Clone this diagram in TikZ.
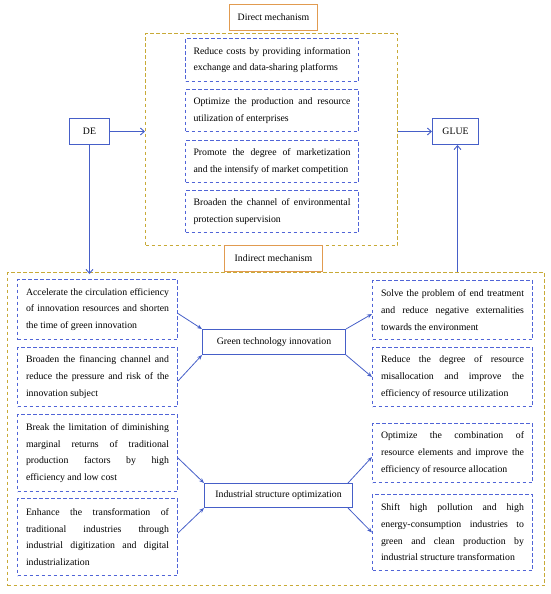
\documentclass[tikz,border=0pt]{standalone}
\usepackage{fontspec}
\setmainfont{Liberation Serif}
\usetikzlibrary{arrows.meta}
\definecolor{bl}{RGB}{70,95,200}
\definecolor{dbl}{RGB}{80,100,215}
\definecolor{ol}{RGB}{200,170,55}
\definecolor{tn}{RGB}{225,155,80}
\newcommand\mytxtsetup{\hyphenpenalty=10000 \exhyphenpenalty=10000 \spaceskip=2.45pt plus 4pt\relax}
\tikzset{
  txt/.style={font=\fontsize{9.8}{16.7}\selectfont\mytxtsetup},
  solidbox/.style={draw=bl, line width=1pt, txt, inner sep=0pt, align=center},
  labelbox/.style={draw=tn, line width=1pt, txt, inner sep=0pt, align=center},
  outerbox/.style={draw=ol, line width=1pt, dash pattern=on 3.5pt off 2.5pt, inner sep=0pt},
  dbox/.style={draw=dbl, line width=1pt, dash pattern=on 3.5pt off 2.5pt, txt, inner sep=0pt, align=justify},
  arr/.style={draw=bl, line width=0.9pt, -{Straight Barb[length=4pt,width=7pt]}},
  sarr/.style={draw=bl, line width=0.8pt, -{Stealth[length=5pt,width=4pt]}}
}
\begin{document}
\begin{tikzpicture}[x=1pt,y=-1pt]
\useasboundingbox (-0.5,-0.5) rectangle (549.5,593.5);
% direct mechanism
\node[labelbox, minimum width=88pt, minimum height=26pt] (dlab) at (273,17) {Direct mechanism};
\node[outerbox, minimum width=252pt, minimum height=212pt] (dir) at (271,139) {};
\node[dbox, text width=157pt, minimum width=173pt, minimum height=43pt] (d1) at (271.5,59.5) {Reduce costs by providing information exchange and data-sharing platforms};
\node[dbox, text width=157pt, minimum width=173pt, minimum height=42pt] (d2) at (271.5,110) {Optimize the production and resource utilization of enterprises};
\node[dbox, text width=157pt, minimum width=173pt, minimum height=42pt] (d3) at (271.5,161) {Promote the degree of marketization and the intensify of market competition};
\node[dbox, text width=157pt, minimum width=173pt, minimum height=42pt] (d4) at (271.5,211) {Broaden the channel of environmental protection supervision};
% DE, GLUE
\node[solidbox, minimum width=40pt, minimum height=26pt] (de) at (89,131) {DE};
\node[solidbox, minimum width=46pt, minimum height=26pt] (glue) at (455,131) {GLUE};
% indirect
\node[labelbox, minimum width=98pt, minimum height=26pt] (ilab) at (273,258) {Indirect mechanism};
\node[outerbox, minimum width=537pt, minimum height=313pt] (ind) at (275.5,428.5) {};
\node[dbox, text width=143pt, minimum width=160pt, minimum height=60pt] (l1) at (97,309) {Accelerate the circulation efficiency of innovation resources and shorten the time of green innovation};
\node[dbox, text width=143pt, minimum width=160pt, minimum height=59pt] (l2) at (97,376.5) {Broaden the financing channel and reduce the pressure and risk of the innovation subject};
\node[dbox, text width=143pt, minimum width=160pt, minimum height=77pt] (l3) at (97,452.5) {Break the limitation of diminishing marginal returns of traditional production factors by high efficiency and low cost};
\node[dbox, text width=143pt, minimum width=160pt, minimum height=77pt] (l4) at (97,536.5) {Enhance the transformation of traditional industries through industrial digitization and digital industrialization};
\node[solidbox, minimum width=143pt, minimum height=25pt] (g) at (273.5,341.5) {Green technology innovation};
\node[solidbox, minimum width=148pt, minimum height=24pt] (is) at (278,495) {Industrial structure optimization};
\node[dbox, text width=143pt, minimum width=160pt, minimum height=59pt] (r1) at (452,309.5) {Solve the problem of end treatment and reduce negative externalities towards the environment};
\node[dbox, text width=143pt, minimum width=160pt, minimum height=59pt] (r2) at (452,376.5) {Reduce the degree of resource misallocation and improve the efficiency of resource utilization};
\node[dbox, text width=143pt, minimum width=160pt, minimum height=59pt] (r3) at (452,452.5) {Optimize the combination of resource elements and improve the efficiency of resource allocation};
\node[dbox, text width=143pt, minimum width=160pt, minimum height=76pt] (r4) at (452,532) {Shift high pollution and high energy-consumption industries to green and clean production by industrial structure transformation};
% connectors
\draw[arr] (de.east) -- (de.east -| dir.west);
\draw[arr] (dir.east |- glue.west) -- (glue.west);
\draw[arr] (de.south) -- ([yshift=-2pt]de.south |- ind.north);
\draw[arr] ([xshift=2pt]glue.south |- ind.north) -- ([xshift=2pt]glue.south);
\draw[sarr] ([yshift=-4pt]l1.east) -- (g.north west);
\draw[sarr] ([yshift=-4pt]l2.east) -- (g.south west);
\draw[sarr] (g.north east) -- ([yshift=-4pt]r1.west);
\draw[sarr] (g.south east) -- (r2.west);
\draw[sarr] ([yshift=-5pt]l3.east) -- (is.north west);
\draw[sarr] ([yshift=4pt]l4.east) -- (is.south west);
\draw[sarr] ([xshift=-5pt]is.north east) -- ([yshift=-4pt]r3.west);
\draw[sarr] ([xshift=-5pt]is.south east) -- (r4.west);
\end{tikzpicture}
\end{document}
